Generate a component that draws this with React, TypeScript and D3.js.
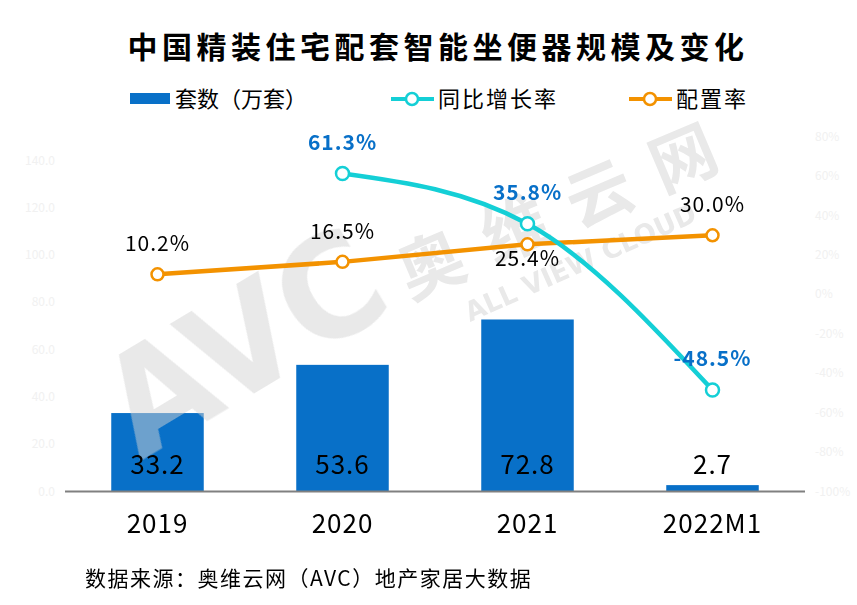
import React from "react";
import * as d3 from "d3";

const categories = ["2019", "2020", "2021", "2022M1"];
const units = [33.2, 53.6, 72.8, 2.7];
const growth: (number | null)[] = [null, 61.3, 35.8, -48.5];
const configRate = [10.2, 16.5, 25.4, 30.0];
const leftTicks = [0, 20, 40, 60, 80, 100, 120, 140];
const rightTicks = [-100, -80, -60, -40, -20, 0, 20, 40, 60, 80];

const W = 857;
const H = 605;
const FONT = "'Noto Sans CJK SC', 'Noto Sans', sans-serif";
const BLUE = "#0870c8";
const CYAN = "#14cfd6";
const ORANGE = "#f39200";

export default function App() {
  const x = d3.scaleBand<string>().domain(categories).range([65, 805]).paddingInner(0.5).paddingOuter(0.25);
  const yL = d3.scaleLinear().domain([0, 140]).range([491.5, 160.7]);
  const yR = d3.scaleLinear().domain([-100, 80]).range([491.5, 136.7]);
  const cx = (c: string) => (x(c) as number) + x.bandwidth() / 2;

  const growthPts = categories
    .map((c, i) => ({ c, v: growth[i] }))
    .filter((d) => d.v !== null) as { c: string; v: number }[];
  const configPts = categories.map((c, i) => ({ c, v: configRate[i] }));

  const lineG = d3
    .line<{ c: string; v: number }>()
    .x((d) => cx(d.c))
    .y((d) => yR(d.v))
    .curve(d3.curveMonotoneX);
  const lineC = d3
    .line<{ c: string; v: number }>()
    .x((d) => cx(d.c))
    .y((d) => yR(d.v));

  return (
    <svg width={W} height={H} style={{ display: "block", position: "absolute", left: 0, top: 0 }} fontFamily={FONT}>
      <rect width={W} height={H} fill="#fff" />
      {/* Title */}
      <text x={438} y={58} textAnchor="middle" fontSize={30} fontWeight="bold" letterSpacing={4.5} fill="#000">
        中国精装住宅配套智能坐便器规模及变化
      </text>
      {/* Legend */}
      <g>
        <rect x={130} y={93} width={40} height={11} fill={BLUE} />
        <text x={175} y={107} fontSize={22} fill="#000">套数（万套）</text>
        <line x1={391} x2={434} y1={99} y2={99} stroke={CYAN} strokeWidth={4} />
        <circle cx={412} cy={99} r={6} fill="#fff" stroke={CYAN} strokeWidth={2.5} />
        <text x={438} y={107} fontSize={22} letterSpacing={2} fill="#000">同比增长率</text>
        <line x1={629} x2={672} y1={99} y2={99} stroke={ORANGE} strokeWidth={4} />
        <circle cx={650} cy={99} r={6} fill="#fff" stroke={ORANGE} strokeWidth={2.5} />
        <text x={676} y={107} fontSize={22} letterSpacing={2} fill="#000">配置率</text>
      </g>
      {/* Left axis labels */}
      {leftTicks.map((t) => (
        <text key={"l" + t} x={55} y={yL(t) + 4} textAnchor="end" fontSize={12} fill="#f1f1f1">
          {t.toFixed(1)}
        </text>
      ))}
      {/* Right axis labels */}
      {rightTicks.map((t) => (
        <text key={"r" + t} x={815} y={yR(t) + 4} textAnchor="start" fontSize={12} fill="#f1f1f1">
          {t + "%"}
        </text>
      ))}
      {/* Bars */}
      {categories.map((c, i) => (
        <rect key={c} x={x(c)} y={yL(units[i])} width={x.bandwidth()} height={yL(0) - yL(units[i])} fill={BLUE} />
      ))}
      {/* Watermark */}
      <g opacity={0.5} fill="#d2d2d2" fontWeight="bold">
        <text
          transform="translate(140,462) rotate(-31)"
          fontSize={140}
          fontFamily="'DejaVu Sans', sans-serif"
          textLength={300}
          lengthAdjust="spacingAndGlyphs"
        >
          AVC
        </text>
        <text transform="translate(410,300) rotate(-23)" fontSize={66} textLength={340} lengthAdjust="spacing">
          奥维云网
        </text>
        <text
          transform="translate(470,322) rotate(-24)"
          fontSize={27}
          fontFamily="'DejaVu Sans', sans-serif"
          textLength={250}
          lengthAdjust="spacingAndGlyphs"
        >
          ALL VIEW CLOUD
        </text>
      </g>
      {/* Baseline */}
      <line x1={65} x2={805} y1={yL(0)} y2={yL(0)} stroke="#808080" strokeWidth={2} />
      {/* Bar labels */}
      {categories.map((c, i) => (
        <text key={"bl" + c} x={cx(c)} y={474} textAnchor="middle" fontSize={26} letterSpacing={1} fill="#000">
          {units[i].toFixed(1)}
        </text>
      ))}
      {/* X labels */}
      {categories.map((c) => (
        <text key={"xl" + c} x={cx(c)} y={533} textAnchor="middle" fontSize={26} letterSpacing={1} fill="#000">
          {c}
        </text>
      ))}
      {/* Config line */}
      <path d={lineC(configPts) || ""} fill="none" stroke={ORANGE} strokeWidth={4.5} />
      {/* Growth line */}
      <path d={lineG(growthPts) || ""} fill="none" stroke={CYAN} strokeWidth={4.5} />
      {configPts.map((d) => (
        <circle key={"cc" + d.c} cx={cx(d.c)} cy={yR(d.v)} r={6} fill="#fff" stroke={ORANGE} strokeWidth={2.5} />
      ))}
      {growthPts.map((d) => (
        <circle key={"gc" + d.c} cx={cx(d.c)} cy={yR(d.v)} r={6.5} fill="#fff" stroke={CYAN} strokeWidth={2.5} />
      ))}
      {/* Config labels */}
      {configPts.map((d, i) => (
        <text
          key={"cl" + d.c}
          x={cx(d.c)}
          y={yR(d.v) + (i === 2 ? 22 : -23)}
          textAnchor="middle"
          fontSize={21}
          letterSpacing={1}
          fill="#000"
        >
          {d.v.toFixed(1) + "%"}
        </text>
      ))}
      {/* Growth labels */}
      {growthPts.map((d) => (
        <text
          key={"gl" + d.c}
          x={cx(d.c)}
          y={yR(d.v) - 24}
          textAnchor="middle"
          fontSize={21}
          fontWeight="bold"
          letterSpacing={1}
          fill={BLUE}
        >
          {d.v.toFixed(1) + "%"}
        </text>
      ))}
      {/* Footer */}
      <text x={85} y={586} fontSize={21} letterSpacing={1.5} fill="#000">
        数据来源：奥维云网（AVC）地产家居大数据
      </text>
    </svg>
  );
}
